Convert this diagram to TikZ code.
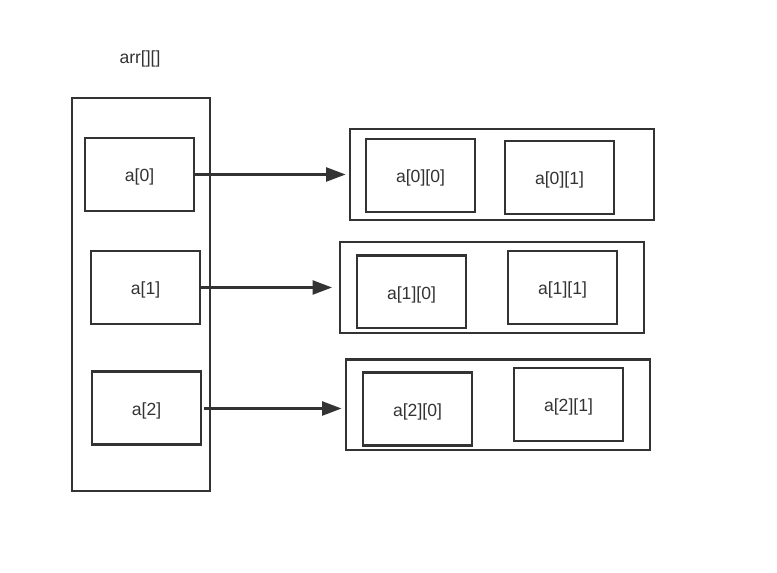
\documentclass[tikz,border=0pt]{standalone}
\usepackage{fontspec}
\setmainfont{Liberation Sans}
\usepackage{tikz}
\usetikzlibrary{positioning,arrows.meta}
\definecolor{linegray}{RGB}{51,51,51}

\begin{document}
\begin{tikzpicture}[
  x=0.02cm, y=-0.02cm,
  font=\fontsize{10pt}{12pt}\selectfont,
  box/.style={draw=linegray, line width=1.15pt, text=linegray,
              inner sep=0pt},
  cell/.style={box, minimum width=2.18cm, minimum height=1.46cm,
               text height=1.05em, text depth=0.25em},
  col/.style={box, minimum width=2.76cm, minimum height=7.86cm},
  row/.style={box, minimum width=6.08cm, minimum height=1.82cm},
  arr/.style={-{Triangle[length=11pt, width=8pt]}, line width=1.15pt,
              draw=linegray, fill=linegray},
  lbl/.style={text=linegray}
]
\useasboundingbox (0,0) rectangle (777,573);

\node[lbl] (title) at (140,59) {arr[][]};
\node[col] (arr) at (141,294.5) {};

%% first level: row pointers
\node[cell] (a0) at (139.5,174.5) {a[0]};
\node[cell] (a1) at (145.5,287.5) {a[1]};
\node[cell] (a2) at (146.5,408)   {a[2]};

%% second level: the rows themselves
\node[row]  (r0)  at (502,174.5) {};
\node[cell] (a00) at (420.5,175.5) {a[0][0]};
\node[cell] (a01) at (559.5,177.5) {a[0][1]};

\node[row]  (r1)  at (492,287.5) {};
\node[cell] (a10) at (411.5,292)   {a[1][0]};
\node[cell] (a11) at (562.5,287.5) {a[1][1]};

\node[row]  (r2)  at (498,405) {};
\node[cell] (a20) at (417.5,409)   {a[2][0]};
\node[cell] (a21) at (568.5,404.5) {a[2][1]};

\draw[arr, shorten >=2pt] (a0.east) -- (a0.east -| r0.west);
\draw[arr, shorten >=4pt] (a1.east) -- (a1.east -| r1.west);
\draw[arr, shorten <=1pt, shorten >=2pt] ([yshift=-0.01cm]a2.east) -- ([yshift=-0.01cm]a2.east -| r2.west);
\end{tikzpicture}
\end{document}
